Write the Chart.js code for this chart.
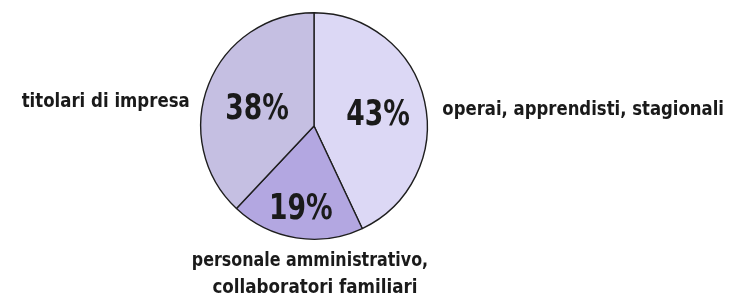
<!DOCTYPE html>
<html>
<head>
<meta charset="utf-8">
<script src="https://cdn.jsdelivr.net/npm/chart.js@4"></script>
<style>
  html, body { margin: 0; padding: 0; background: #fff; }
  #wrap { width: 729px; height: 296px; position: relative; }
</style>
</head>
<body>
<div id="wrap"><canvas id="pieChart"></canvas></div>
<script>
// dati del grafico
const categories = ['operai, apprendisti, stagionali', 'personale amministrativo, collaboratori familiari', 'titolari di impresa'];
const values = [43, 19, 38];
const sliceColors = ['#dcd8f5', '#b3a7e1', '#c5bfe2'];

const FONT = '"DejaVu Sans Condensed", "Liberation Sans Narrow", sans-serif';

// testo compresso in orizzontale (font condensato)
function drawText(ctx, txt, x, y, align, sx) {
    ctx.save();
    ctx.translate(x, y);
    ctx.scale(sx, 1);
    ctx.textAlign = align;
    ctx.fillText(txt, 0, 0);
    ctx.restore();
}

// etichette: percentuali dentro, nomi fuori
const labelPlugin = {
    id: 'pieLabels',
    afterDatasetsDraw(chart) {
        const ctx = chart.ctx;
        const arcs = chart.getDatasetMeta(0).data;
        const cx = arcs[0].x, cy = arcs[0].y, r = arcs[0].outerRadius;
        ctx.save();
        ctx.fillStyle = '#1a1a1a';
        ctx.textBaseline = 'middle';
        ctx.font = 'bold 36px ' + FONT;
        const shifts = [[0.58, 0.038], [0.75, 0], [0.54, 0.058]];
        arcs.forEach((arc, i) => {
            const mid = (arc.startAngle + arc.endAngle) / 2;
            const k = shifts[i][0];
            const x = cx + Math.cos(mid) * r * k;
            const y = cy + Math.sin(mid) * r * k + shifts[i][1] * r;
            drawText(ctx, values[i] + '%', x, y, 'center', 0.82);
        });

        ctx.font = 'bold 19px ' + FONT;
        drawText(ctx, categories[0], cx + r + 15, cy - 16, 'left', 0.965);
        drawText(ctx, categories[2], cx - r - 11, cy - 24, 'right', 0.97);
        drawText(ctx, 'personale amministrativo,', cx - 4, cy + 135, 'center', 0.93);
        drawText(ctx, 'collaboratori familiari', cx + 1, cy + 162, 'center', 0.98);
        ctx.restore();
    }
};

new Chart(document.getElementById('pieChart'), {
    type: 'pie',
    data: {
        labels: categories,
        datasets: [{
            data: values,
            backgroundColor: sliceColors,
            borderColor: '#1e1e1e',
            borderWidth: 1.4
        }]
    },
    options: {
        responsive: true,
        maintainAspectRatio: false,
        animation: false,
        layout: { padding: { top: 12, bottom: 56, left: 200, right: 301 } },
        plugins: {
            legend: { display: false },
            tooltip: { enabled: false }
        }
    },
    plugins: [labelPlugin]
});
</script>
</body>
</html>
